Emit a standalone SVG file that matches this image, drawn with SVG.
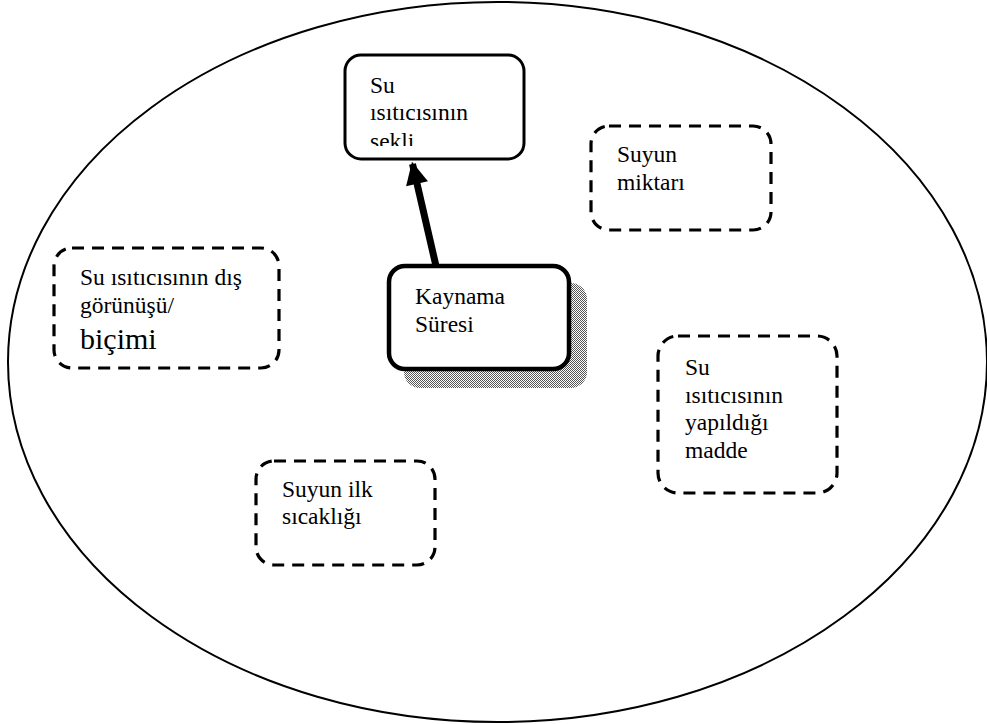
<svg xmlns="http://www.w3.org/2000/svg" width="987" height="724" viewBox="0 0 987 724">
  <style>
    text { font-family: 'Liberation Serif', 'DejaVu Serif', serif; font-size: 23.5px; fill: #000; }
    .big { font-size: 30px; }
    .dash { fill: #fff; stroke: #000; stroke-width: 3.2; stroke-dasharray: 12 8; }
    .solid { fill: #fff; stroke: #000; }
  </style>
  <defs>
    <pattern id="checker" width="2" height="2" patternUnits="userSpaceOnUse">
      <rect width="2" height="2" fill="#fff"/>
      <rect width="1" height="1" fill="#555"/>
      <rect x="1" y="1" width="1" height="1" fill="#555"/>
    </pattern>
    <clipPath id="clipTop">
      <rect x="347" y="57" width="176" height="89"/>
    </clipPath>
    <marker id="head" viewBox="0 0 10 10" refX="9" refY="5" markerWidth="4" markerHeight="3.2" orient="auto" markerUnits="strokeWidth">
      <path d="M0,0 L10,5 L0,10 z" fill="#000"/>
    </marker>
  </defs>

  <rect width="987" height="724" fill="#fff"/>

  <!-- outer boundary -->
  <ellipse cx="497.5" cy="362" rx="489.5" ry="360" fill="none" stroke="#000" stroke-width="2"/>

  <!-- connectors -->
  <g id="connectors">
    <line x1="436" y1="266" x2="412.5" y2="164" stroke="#000" stroke-width="7" marker-end="url(#head)"/>
  </g>

  <g id="node-shape">
    <rect class="solid" x="345" y="55" width="179" height="104" rx="16" stroke-width="3"/>
    <g clip-path="url(#clipTop)">
      <text x="370" y="93">Su</text>
      <text x="370" y="120">ısıtıcısının</text>
      <text x="370" y="148.5">sekli</text>
    </g>
  </g>

  <g id="node-boiling-time">
    <rect x="404" y="283" width="183" height="105" rx="16" fill="url(#checker)"/>
    <rect class="solid" x="389" y="266" width="180" height="103" rx="16" stroke-width="4.5"/>
    <text x="415" y="304">Kaynama</text>
    <text x="415" y="332">Süresi</text>
  </g>

  <g id="node-amount">
    <rect class="dash" x="591" y="126" width="180" height="104" rx="18"/>
    <text x="617" y="162">Suyun</text>
    <text x="617" y="190">miktarı</text>
  </g>

  <g id="node-appearance">
    <rect class="dash" x="54" y="248" width="225" height="120" rx="18"/>
    <text x="80" y="285">Su ısıtıcısının dış</text>
    <text x="80" y="313">görünüşü/</text>
    <text class="big" x="80" y="349">biçimi</text>
  </g>

  <g id="node-material">
    <rect class="dash" x="658" y="336" width="179" height="157" rx="20"/>
    <text x="685" y="375">Su</text>
    <text x="685" y="403">ısıtıcısının</text>
    <text x="685" y="430">yapıldığı</text>
    <text x="685" y="458">madde</text>
  </g>

  <g id="node-initial-temp">
    <rect class="dash" x="256" y="461" width="179" height="104" rx="18"/>
    <text x="282" y="497">Suyun ilk</text>
    <text x="282" y="524">sıcaklığı</text>
  </g>
</svg>
